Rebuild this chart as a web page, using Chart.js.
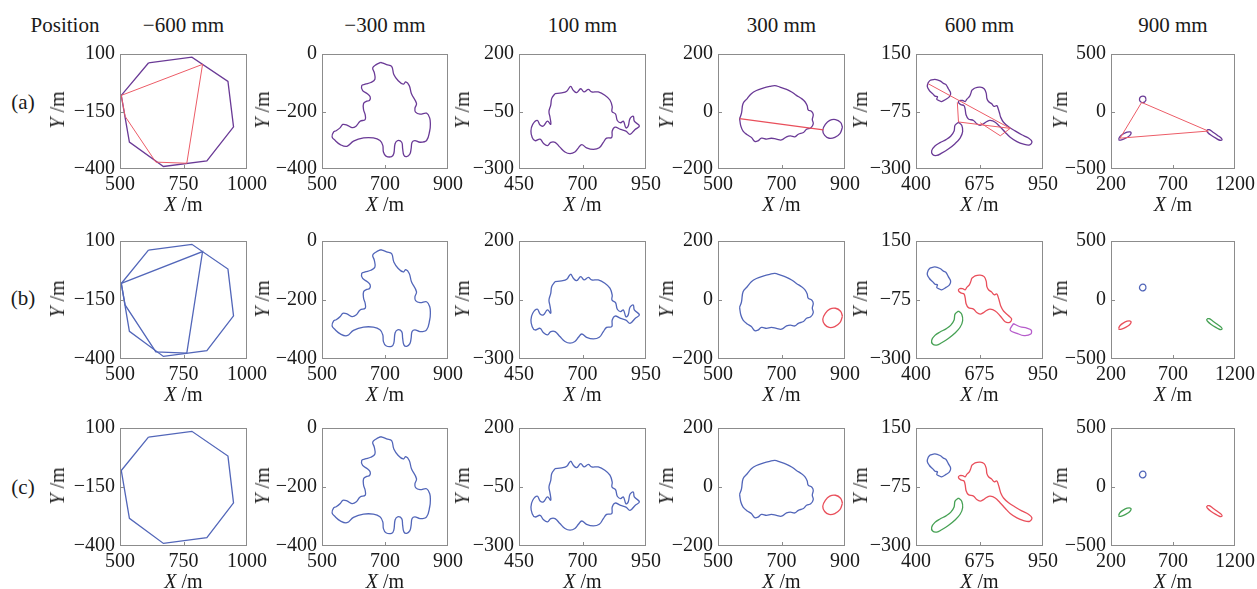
<!DOCTYPE html>
<html>
<head>
<meta charset="utf-8">
<script src="https://cdn.jsdelivr.net/npm/chart.js@4.4.0/dist/chart.umd.min.js"></script>
<style>
  body { margin:0; background:#fff; width:1257px; height:589px; position:relative; overflow:hidden;
         font-family:"Liberation Serif","DejaVu Serif",serif; color:#1a1a1a; }
  .panel { position:absolute; }
  .lbl { position:absolute; white-space:nowrap; line-height:1; font-size:20px; }
  .ttl { font-size:21px; transform:translate(-50%,-50%); }
  .xlab { transform:translate(-50%,-50%); }
  .ylab { transform:translate(-50%,-50%) rotate(-90deg); }
</style>
</head>
<body>
<script>
/* Beam cross-sections at six positions, rows (a) (b) (c) */

// --- labels & ticks ---
const positions = ['−600 mm', '−300 mm', '100 mm', '300 mm', '600 mm', '900 mm'];
const rowLabels = ['(a)', '(b)', '(c)'];
const xTicks = [[500, 750, 1000], [500, 700, 900], [450, 700, 950], [500, 700, 900], [400, 675, 950], [200, 700, 1200]];
const yTicks = [[-400, -150, 100], [-400, -200, 0], [-300, -50, 200], [-200, 0, 200], [-300, -75, 150], [-500, 0, 500]];

// --- contours (X, Y in m) ---
// -600 mm
const octagon = [[612,61],[783,86],[925,-19],[947,-217],[842,-365],[671,-389],[537,-283],[505,-80],[612,61]];
const octChords = [[505,-80],[825,55],[763,-375],[641,-370],[520,-171],[505,-80]];
// -300 mm
const blobM300 = [[687,-29],[705,-37],[721,-43],[728,-71],[742,-93],[758,-105],[766,-97],[777,-110],[784,-138],[800,-172],
  [795,-189],[797,-202],[811,-209],[832,-206],[842,-223],[844,-245],[842,-267],[832,-301],[811,-307],[795,-301],[786,-307],
  [783,-329],[779,-348],[769,-357],[760,-352],[756,-329],[753,-307],[740,-301],[732,-312],[728,-346],[721,-357],[703,-355],
  [695,-341],[693,-318],[684,-301],[663,-292],[632,-292],[600,-303],[579,-321],[558,-315],[542,-301],[532,-288],[537,-271],
  [545,-267],[558,-256],[566,-245],[579,-247],[595,-256],[608,-251],[621,-234],[637,-228],[637,-211],[632,-194],[632,-172],
  [642,-164],[651,-161],[653,-149],[644,-138],[629,-127],[626,-110],[637,-105],[655,-99],[668,-88],[666,-65],[661,-48],
  [672,-37],[687,-29]];
// 100 mm
const blob100 = [[592,28],[618,31],[638,38],[653,59],[664,42],[677,32],[693,49],[706,35],[723,46],[736,35],[762,35],[788,21],
  [808,0],[817,-29],[816,-50],[830,-61],[837,-89],[850,-99],[861,-92],[871,-121],[880,-113],[887,-81],[900,-71],[904,-92],
  [924,-113],[907,-128],[887,-149],[871,-135],[850,-128],[828,-118],[817,-135],[815,-163],[795,-166],[782,-184],[766,-208],
  [743,-215],[716,-208],[697,-194],[684,-208],[670,-226],[651,-233],[631,-226],[611,-205],[592,-184],[575,-184],[562,-198],
  [546,-188],[533,-170],[513,-177],[502,-163],[497,-135],[504,-106],[522,-89],[533,-109],[546,-113],[562,-92],[575,-106],
  [572,-75],[568,-50],[575,-22],[579,7],[592,28]];
// 300 mm
const blob300 = [[568,-25],[574,-6],[579,28],[592,45],[605,62],[621,73],[642,81],[663,87],[679,90],[695,85],[716,77],[732,68],
  [747,56],[763,45],[774,34],[781,20],[784,6],[795,0],[800,-11],[797,-28],[800,-43],[792,-57],[779,-62],[769,-73],[753,-79],
  [742,-88],[728,-85],[716,-88],[700,-99],[684,-96],[668,-93],[653,-96],[637,-93],[626,-102],[616,-104],[605,-90],[592,-81],
  [579,-68],[572,-51],[568,-25]];
const oval300 = [[892,-55],[886,-38],[870,-28],[852,-31],[838,-45],[830,-65],[836,-83],[850,-93],[868,-90],[884,-77],[892,-55]];
const chord300 = [[568,-25],[832,-64]];
// 600 mm
const head600 = [[461,47],[482,51],[504,45],[519,35],[530,30],[540,14],[550,-3],[545,-17],[530,-27],[511,-36],[501,-33],
  [490,-27],[493,-17],[482,-15],[472,-5],[458,7],[449,22],[453,38],[461,47]];
const arm600 = [[584,-117],[598,-129],[602,-154],[591,-179],[569,-201],[540,-222],[511,-238],[490,-247],[472,-243],[468,-228],
  [482,-210],[504,-197],[530,-185],[550,-172],[565,-151],[569,-129],[584,-117]];
const body600 = [[641,7],[656,17],[678,20],[695,14],[704,-3],[707,-24],[714,-36],[728,-45],[738,-55],[750,-52],[757,-67],
  [762,-82],[767,-98],[779,-117],[801,-135],[829,-151],[858,-166],[887,-179],[902,-193],[892,-206],[866,-203],[837,-193],
  [808,-176],[786,-156],[764,-135],[743,-117],[721,-110],[707,-114],[692,-123],[678,-129],[663,-123],[649,-110],[627,-104],
  [617,-89],[613,-67],[608,-52],[594,-48],[584,-40],[588,-32],[602,-32],[613,-36],[620,-27],[631,-17],[637,-5],[641,7]];
const bodyCut600 = [[641,7],[656,17],[678,20],[695,14],[704,-3],[707,-24],[714,-36],[728,-45],[738,-55],[750,-52],[757,-67],
  [762,-82],[767,-98],[779,-117],[801,-135],[814,-147],[806,-160],[786,-158],[764,-135],[743,-117],[721,-110],[707,-114],
  [692,-123],[678,-129],[663,-123],[649,-110],[627,-104],[617,-89],[613,-67],[608,-52],[594,-48],[584,-40],[588,-32],
  [602,-32],[613,-36],[620,-27],[631,-17],[637,-5],[641,7]];
const tail600 = [[822,-165],[851,-177],[880,-182],[899,-190],[897,-205],[868,-211],[837,-202],[808,-190],[822,-165]];
const chordsA600 = [[454,33],[808,-141],[584,-116],[579,-39]];
const chordsB600 = [[678,-119],[765,-170],[808,-141]];
// 900 mm
const ring900 = [[482,108],[476,126],[458,134],[440,128],[430,110],[434,90],[450,78],[470,82],[480,95],[482,108]];
const left900 = [[262,-240],[272,-218],[298,-196],[330,-180],[355,-178],[362,-190],[348,-212],[318,-232],[285,-246],
  [266,-248],[262,-240]];
const right900 = [[975,-160],[992,-158],[1020,-178],[1060,-208],[1090,-232],[1095,-247],[1078,-250],[1045,-232],
  [1005,-205],[980,-182],[972,-168],[975,-160]];
const chord900 = [[447,79],[273,-232],[985,-170],[447,79]];

// --- layout ---
const colLeft = [120, 322, 519, 718, 916, 1111];
const colRight = [247, 448, 646, 845, 1043, 1235];
const rowTop = [51, 238, 425];
const rowBottom = [169, 359, 546];
const yLabGap = [63, 60, 57, 52, 56, 51];
const PADL = 75, PADT = 14, PADR = 26, PADB = 50;

const ink = { purple:'#6a3a96', chord:'#ec5c67', blue:'#5266b9', red:'#e94f5b', green:'#46a154', magenta:'#b65ccb' };

// [contour, colour, tension]
const curves = [
  [ [[octChords,'chord',0],[octagon,'purple',0]],
    [[octChords,'blue',0],[octagon,'blue',0]],
    [[octagon,'blue',0]] ],
  [ [[blobM300,'purple',0.4]], [[blobM300,'blue',0.4]], [[blobM300,'blue',0.4]] ],
  [ [[blob100,'purple',0.4]], [[blob100,'blue',0.4]], [[blob100,'blue',0.4]] ],
  [ [[chord300,'red',0],[blob300,'purple',0.4],[oval300,'purple',0.4]],
    [[blob300,'blue',0.4],[oval300,'red',0.4]],
    [[blob300,'blue',0.4],[oval300,'red',0.4]] ],
  [ [[chordsA600,'chord',0],[chordsB600,'chord',0],[head600,'purple',0.35],[arm600,'purple',0.35],[body600,'purple',0.35]],
    [[head600,'blue',0.35],[arm600,'green',0.35],[bodyCut600,'red',0.35],[tail600,'magenta',0.35]],
    [[head600,'blue',0.35],[arm600,'green',0.35],[body600,'red',0.35]] ],
  [ [[chord900,'chord',0],[ring900,'purple',0.4],[left900,'purple',0.4],[right900,'purple',0.4]],
    [[ring900,'blue',0.4],[left900,'red',0.4],[right900,'green',0.4]],
    [[ring900,'blue',0.4],[left900,'green',0.4],[right900,'red',0.4]] ]
];

const fmt = v => v < 0 ? '\u2212' + Math.abs(v) : String(v);
const tickFont = { family:'Liberation Serif', size:20 };

const boxPlugin = {
  id: 'box',
  afterDraw(chart) {
    const a = chart.chartArea, ctx = chart.ctx;
    ctx.save();
    ctx.strokeStyle = '#8c8c8c';
    ctx.lineWidth = 1;
    ctx.strokeRect(Math.round(a.left) + 0.5, Math.round(a.top) + 0.5,
                   Math.round(a.right - a.left) - 1, Math.round(a.bottom - a.top) - 1);
    const xs = chart.scales.x, ys = chart.scales.y;
    const xm = Math.round(xs.getPixelForValue(xs.ticks[1].value)) + 0.5;
    const ym = Math.round(ys.getPixelForValue(ys.ticks[1].value)) + 0.5;
    ctx.beginPath();
    ctx.moveTo(xm, a.bottom); ctx.lineTo(xm, a.bottom - 4);
    ctx.moveTo(a.left, ym); ctx.lineTo(a.left + 4, ym);
    ctx.stroke();
    ctx.restore();
  }
};

function addLabel(html, cls, x, y) {
  const d = document.createElement('div');
  d.className = 'lbl ' + cls;
  d.innerHTML = html;
  d.style.left = x + 'px';
  d.style.top = y + 'px';
  document.body.appendChild(d);
}

addLabel('Position', 'ttl', 65, 25);
positions.forEach((p, c) => addLabel(p, 'ttl', (colLeft[c] + colRight[c]) / 2, 25));
rowLabels.forEach((t, r) => addLabel(t, 'ttl', 23, [102, 298, 487][r]));

for (let r = 0; r < 3; r++) {
  for (let c = 0; c < 6; c++) {
    const w = colRight[c] - colLeft[c] + PADL + PADR;
    const h = rowBottom[r] - rowTop[r] + PADT + PADB;
    const div = document.createElement('div');
    div.className = 'panel';
    div.style.left = (colLeft[c] - PADL) + 'px';
    div.style.top = (rowTop[r] - PADT) + 'px';
    const cv = document.createElement('canvas');
    cv.width = w; cv.height = h;
    cv.style.width = w + 'px'; cv.style.height = h + 'px';
    div.appendChild(cv);
    document.body.appendChild(div);

    const datasets = curves[c][r].map(([pts, col, ten]) => ({
      data: pts.map(p => ({ x: p[0], y: p[1] })),
      showLine: true,
      borderColor: ink[col],
      borderWidth: col === 'chord' ? 1 : 1.3,
      pointRadius: 0,
      tension: ten,
      fill: false
    }));

    const xt = xTicks[c], yt = yTicks[c];
    new Chart(cv, {
      type: 'scatter',
      data: { datasets },
      options: {
        responsive: false,
        animation: false,
        events: [],
        layout: { autoPadding: false, padding: { left: 0, top: PADT, right: PADR, bottom: 0 } },
        plugins: { legend: { display: false }, tooltip: { enabled: false } },
        scales: {
          x: {
            type: 'linear', min: xt[0], max: xt[2],
            afterFit: s => { s.height = PADB; },
            afterBuildTicks: s => { s.ticks = xt.map(v => ({ value: v })); },
            ticks: { autoSkip: false, maxRotation: 0, padding: 4, color: '#1a1a1a', font: tickFont, callback: fmt },
            grid: { display: false, drawTicks: false },
            border: { display: false }
          },
          y: {
            type: 'linear', min: yt[0], max: yt[2],
            afterFit: s => { s.width = PADL; },
            afterBuildTicks: s => { s.ticks = yt.map(v => ({ value: v })); },
            ticks: { autoSkip: false, padding: 5, color: '#1a1a1a', font: tickFont, callback: fmt },
            grid: { display: false, drawTicks: false },
            border: { display: false }
          }
        }
      },
      plugins: [boxPlugin]
    });

    addLabel('<i>Y</i> /m', 'ylab', colLeft[c] - yLabGap[c], (rowTop[r] + rowBottom[r]) / 2);
    addLabel('<i>X</i> /m', 'xlab', (colLeft[c] + colRight[c]) / 2, rowBottom[r] + 35);
  }
}
</script>
</body>
</html>
